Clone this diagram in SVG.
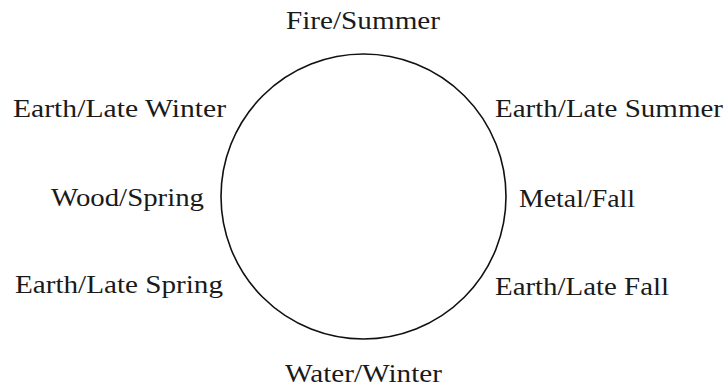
<svg xmlns="http://www.w3.org/2000/svg" width="725" height="389" viewBox="0 0 725 389">
<style>
text{font-family:"Liberation Serif","Times New Roman",serif;font-size:25px;fill:#1a1a1a}
.ring{fill:none;stroke:#111;stroke-width:1.6}
</style>
<rect width="725" height="389" fill="#fff"/>
<g id="cycle"><circle class="ring" cx="363.5" cy="196.5" r="142.5"/></g>
<g id="connectors"></g>
<g id="fire-summer"><text x="286" y="29" textLength="154" lengthAdjust="spacingAndGlyphs">Fire/Summer</text></g>
<g id="earth-late-winter"><text x="13" y="117" textLength="213" lengthAdjust="spacingAndGlyphs">Earth/Late Winter</text></g>
<g id="wood-spring"><text x="51" y="206" textLength="153" lengthAdjust="spacingAndGlyphs">Wood/Spring</text></g>
<g id="earth-late-spring"><text x="15" y="293" textLength="208" lengthAdjust="spacingAndGlyphs">Earth/Late Spring</text></g>
<g id="earth-late-summer"><text x="495" y="117" textLength="228" lengthAdjust="spacingAndGlyphs">Earth/Late Summer</text></g>
<g id="metal-fall"><text x="519" y="207" textLength="116" lengthAdjust="spacingAndGlyphs">Metal/Fall</text></g>
<g id="earth-late-fall"><text x="495" y="295" textLength="174" lengthAdjust="spacingAndGlyphs">Earth/Late Fall</text></g>
<g id="water-winter"><text x="285" y="382" textLength="157" lengthAdjust="spacingAndGlyphs">Water/Winter</text></g>
</svg>
